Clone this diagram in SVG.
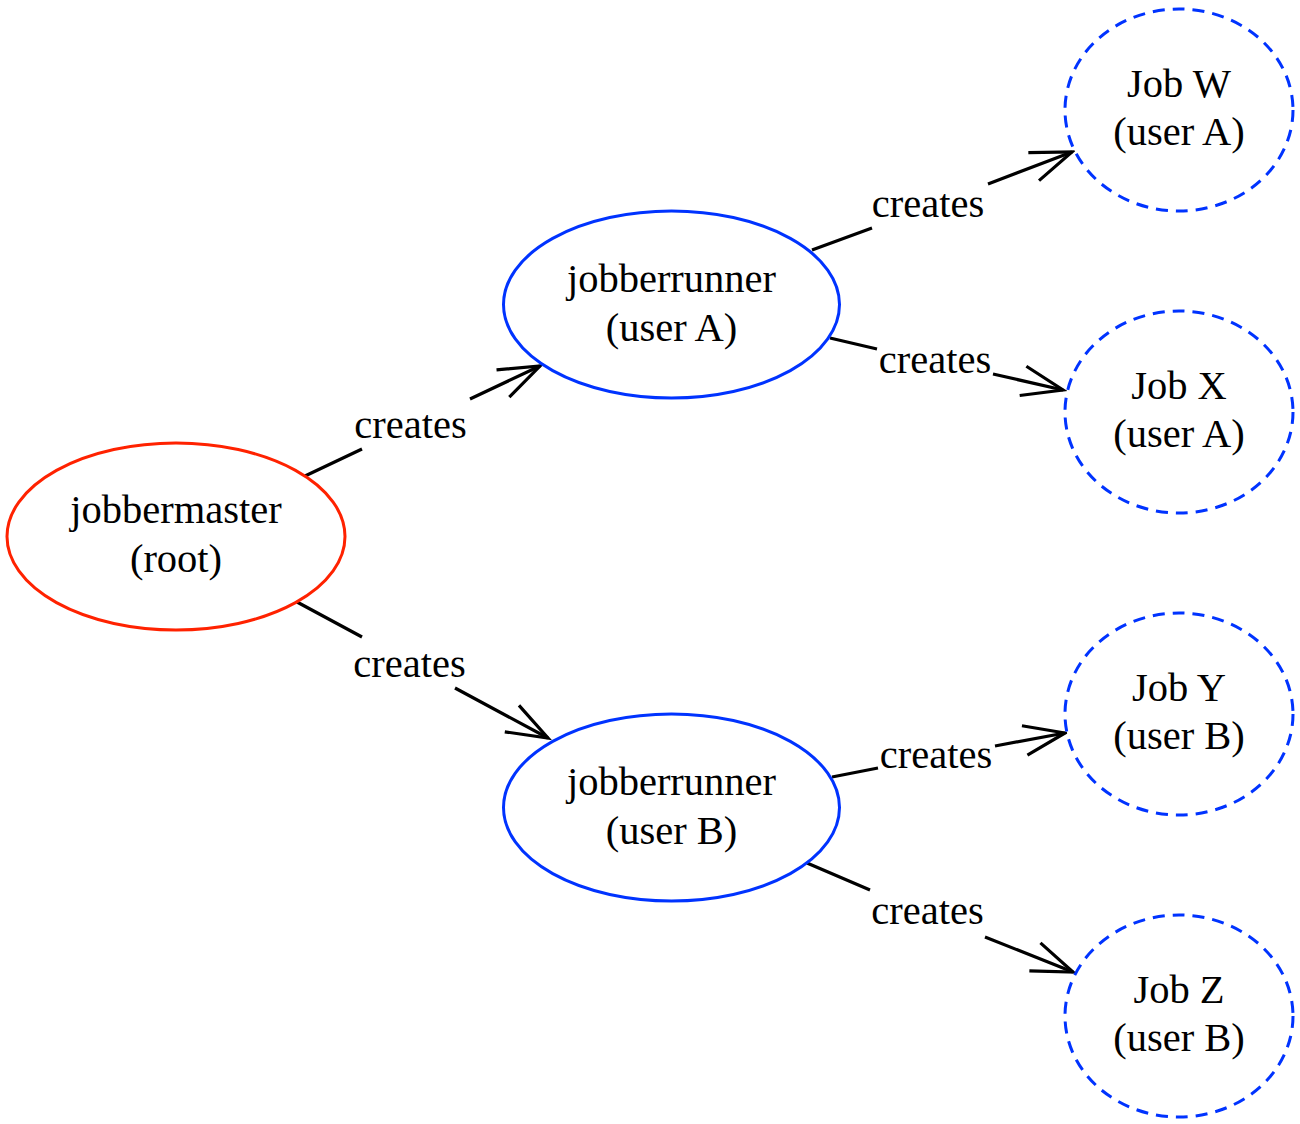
<svg xmlns="http://www.w3.org/2000/svg" width="1300" height="1124" viewBox="0 0 1300 1124">
<style>
  .txt { font-family: "Liberation Serif", "Times New Roman", Times, serif; font-size: 40.5px; fill: #000; text-anchor: middle; }
  .root { fill: #fff; stroke: #ff2200; stroke-width: 3; }
  .runner { fill: #fff; stroke: #0033ff; stroke-width: 3; }
  .job { fill: #fff; stroke: #0033ff; stroke-width: 3; stroke-dasharray: 12 8; }
  .edge { fill: none; stroke: #000; stroke-width: 3.2; marker-end: url(#open); }
</style>
<defs>
  <marker id="open" markerUnits="userSpaceOnUse" viewBox="-48 -20 52 40" refX="0" refY="0" markerWidth="52" markerHeight="40" orient="auto">
    <path d="M-41,-15 L0,0 L-41,15" fill="none" stroke="#000" stroke-width="3.2" stroke-linejoin="miter"/>
  </marker>
</defs>
<rect width="1300" height="1124" fill="#fff"/>
<g id="connectors">
  <path class="edge" d="M305,476 L362,449 M470,399 L540,366"/>
  <path class="edge" d="M297,602 L362,637 M455,688 L548,738"/>
  <path class="edge" d="M812,250 L872,228 M988,184 L1072,152"/>
  <path class="edge" d="M830,338 L877,349 M993,374 L1063,390"/>
  <path class="edge" d="M832,777 L878,768 M995,746 L1065,733"/>
  <path class="edge" d="M807,863 L870,890 M985,937 L1073,972"/>
  <text class="txt" x="410.5" y="438">creates</text>
  <text class="txt" x="409.5" y="677">creates</text>
  <text class="txt" x="928" y="217">creates</text>
  <text class="txt" x="935" y="373">creates</text>
  <text class="txt" x="936" y="768">creates</text>
  <text class="txt" x="927.5" y="924">creates</text>
</g>
<g id="jobbermaster">
  <ellipse class="root" cx="176" cy="536.5" rx="169" ry="93.5"/>
  <text class="txt" x="176" y="523">jobbermaster</text>
  <text class="txt" x="176" y="572">(root)</text>
</g>
<g id="runnerA">
  <ellipse class="runner" cx="671.5" cy="304.5" rx="168" ry="93.5"/>
  <text class="txt" x="671.5" y="292">jobberrunner</text>
  <text class="txt" x="671.5" y="341">(user A)</text>
</g>
<g id="runnerB">
  <ellipse class="runner" cx="671.5" cy="807.5" rx="168" ry="93.5"/>
  <text class="txt" x="671.5" y="795">jobberrunner</text>
  <text class="txt" x="671.5" y="844">(user B)</text>
</g>
<g id="jobW">
  <ellipse class="job" cx="1179" cy="110" rx="114" ry="101"/>
  <text class="txt" x="1179" y="97">Job W</text>
  <text class="txt" x="1179" y="145">(user A)</text>
</g>
<g id="jobX">
  <ellipse class="job" cx="1179" cy="412" rx="114" ry="101"/>
  <text class="txt" x="1179" y="399">Job X</text>
  <text class="txt" x="1179" y="447">(user A)</text>
</g>
<g id="jobY">
  <ellipse class="job" cx="1179" cy="714" rx="114" ry="101"/>
  <text class="txt" x="1179" y="701">Job Y</text>
  <text class="txt" x="1179" y="749">(user B)</text>
</g>
<g id="jobZ">
  <ellipse class="job" cx="1179" cy="1016" rx="114" ry="101"/>
  <text class="txt" x="1179" y="1003">Job Z</text>
  <text class="txt" x="1179" y="1051">(user B)</text>
</g>
</svg>
